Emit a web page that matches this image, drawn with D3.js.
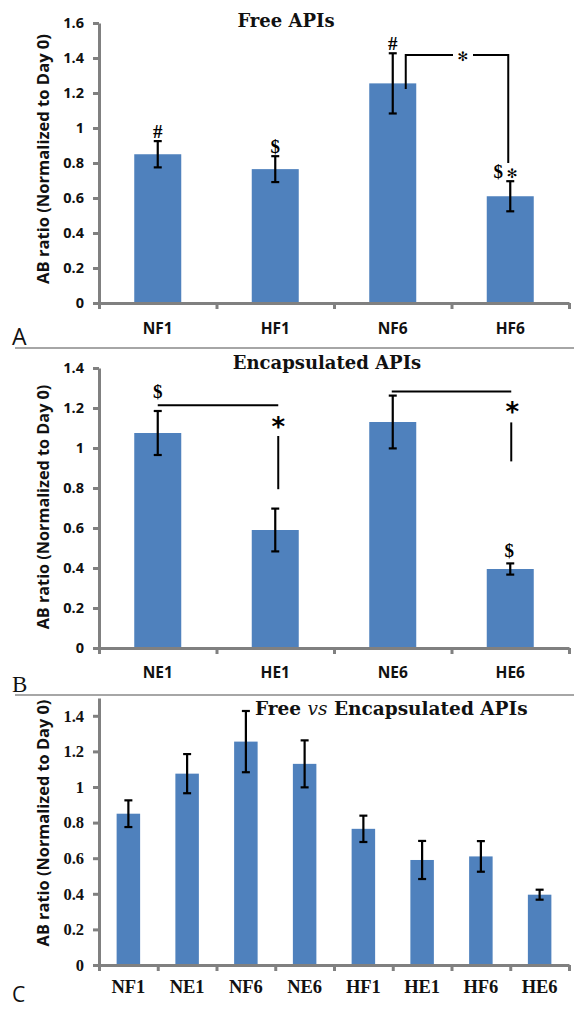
<!DOCTYPE html>
<html>
<head>
<meta charset="utf-8">
<script src="https://cdn.jsdelivr.net/npm/d3@7.9.0/dist/d3.min.js"></script>
<style>
  body { margin: 0; background: #fff; }
  svg { display: block; }
</style>
</head>
<body>
<svg id="chart" width="574" height="1009"></svg>
<script>
// panel A: free APIs
const freeGroups = ['NF1', 'HF1', 'NF6', 'HF6'];
const freeMeans = [0.85, 0.765, 1.255, 0.61];
const freeErrors = [0.075, 0.074, 0.172, 0.086];
const freeTicks = [0, 0.2, 0.4, 0.6, 0.8, 1, 1.2, 1.4, 1.6];
const freeMarks = [['NF1', '#'], ['HF1', '$'], ['NF6', '#'], ['HF6', '$']];

// panel B: encapsulated APIs
const encGroups = ['NE1', 'HE1', 'NE6', 'HE6'];
const encMeans = [1.075, 0.59, 1.13, 0.395];
const encErrors = [0.11, 0.107, 0.132, 0.028];
const encTicks = [0, 0.2, 0.4, 0.6, 0.8, 1, 1.2, 1.4];

// panel C: free vs encapsulated
const allGroups = ['NF1', 'NE1', 'NF6', 'NE6', 'HF1', 'HE1', 'HF6', 'HE6'];
const allMeans = [0.85, 1.075, 1.255, 1.13, 0.765, 0.59, 0.61, 0.395];
const allErrors = [0.075, 0.11, 0.172, 0.132, 0.074, 0.107, 0.086, 0.028];
const allTicks = [0, 0.2, 0.4, 0.6, 0.8, 1, 1.2, 1.4];

const yTitle = 'AB ratio (Normalized to Day 0)';

const svg = d3.select('#chart');
const left = 99, right = 569;
const barColor = '#4f81bd';
const axisColor = '#808080';
const sans = '"Open Sans", Lato, sans-serif';
const serif = '"Liberation Serif", "DejaVu Serif", serif';
const titleFont = '"DejaVu Serif", serif';

function drawPanel(p) {
  const n = p.groups.length;
  const x = d3.scaleBand().domain(p.groups).range([left, right]).paddingInner(0.6).paddingOuter(0.3);
  const xi = d3.scaleLinear().domain([0, n]).range([left, right]);
  const y = d3.scaleLinear().domain([0, p.yMax]).range([p.bottom, p.top]);
  const cx = k => x(k) + x.bandwidth() / 2;
  const g = svg.append('g');

  g.selectAll('rect.bar').data(p.groups).join('rect')
    .attr('class', 'bar')
    .attr('x', d => x(d))
    .attr('y', (d, i) => y(p.means[i]))
    .attr('width', x.bandwidth())
    .attr('height', (d, i) => p.bottom - y(p.means[i]))
    .attr('fill', barColor);

  const eb = g.selectAll('g.err').data(p.groups).join('g')
    .attr('class', 'err')
    .attr('stroke', '#000')
    .attr('stroke-width', 2.2);
  eb.append('line')
    .attr('x1', cx).attr('x2', cx)
    .attr('y1', (d, i) => y(p.means[i] - p.errors[i]))
    .attr('y2', (d, i) => y(p.means[i] + p.errors[i]));
  [-1, 1].forEach(s => {
    eb.append('line')
      .attr('x1', d => cx(d) - 4).attr('x2', d => cx(d) + 4)
      .attr('y1', (d, i) => y(p.means[i] + s * p.errors[i]))
      .attr('y2', (d, i) => y(p.means[i] + s * p.errors[i]));
  });

  const yAxis = g.append('g')
    .attr('transform', `translate(${left},0)`)
    .call(d3.axisLeft(y).tickValues(p.ticks).tickSize(6).tickSizeOuter(0)
      .tickPadding(9).tickFormat(d3.format('~g')));
  const xAxis = g.append('g')
    .attr('transform', `translate(0,${p.bottom})`)
    .call(d3.axisBottom(xi).tickValues(d3.range(n + 1)).tickSize(6).tickSizeOuter(0).tickFormat(''));
  [yAxis, xAxis].forEach(a => {
    a.select('.domain').attr('stroke', axisColor).attr('stroke-width', 3);
    a.selectAll('.tick line').attr('stroke', axisColor).attr('stroke-width', 3);
  });
  yAxis.selectAll('.tick text')
    .attr('font-family', p.tickFont)
    .attr('font-weight', 'bold')
    .attr('font-size', p.tickSize)
    .attr('fill', '#111');

  g.selectAll('text.cat').data(p.groups).join('text')
    .attr('class', 'cat')
    .attr('x', cx)
    .attr('y', p.labelY)
    .attr('text-anchor', 'middle')
    .attr('font-family', p.tickFont)
    .attr('font-weight', 'bold')
    .attr('font-size', p.labelSize)
    .attr('fill', '#111')
    .text(d => d);

  // rotated y title, sized to the length it has in the figure
  const yt = g.append('text')
    .attr('transform', `translate(49,${p.yTitleY}) rotate(-90)`)
    .attr('text-anchor', 'middle')
    .attr('font-family', sans)
    .attr('font-weight', 'bold')
    .attr('font-size', 15)
    .attr('fill', '#111')
    .text(yTitle);
  const len = yt.node().getComputedTextLength();
  if (len > 0) yt.attr('font-size', 15 * p.yTitleLen / len);

  g.append('text')
    .attr('x', 12)
    .attr('y', p.letterY)
    .attr('font-family', p.letterFont)
    .attr('font-size', p.letterSize)
    .attr('fill', '#111')
    .text(p.letter);

  return { x, y, cx, g };
}

function line(g, pts) {
  g.append('path')
    .attr('d', d3.line()(pts))
    .attr('fill', 'none')
    .attr('stroke', '#000')
    .attr('stroke-width', 2);
}

function star(g, xPos, yCenter, size, glyph) {
  g.append('text')
    .attr('x', xPos)
    .attr('y', yCenter + size * 0.45)
    .attr('text-anchor', 'middle')
    .attr('font-family', '"DejaVu Sans", sans-serif')
    .attr('font-weight', 'bold')
    .attr('font-size', size)
    .attr('fill', '#000')
    .text(glyph);
}

// ---------- panel A ----------
const A = drawPanel({
  groups: freeGroups, means: freeMeans, errors: freeErrors, ticks: freeTicks,
  yMax: 1.6, top: 23, bottom: 303, tickFont: sans, tickSize: 14.5,
  labelY: 334, labelSize: 15.5, yTitleY: 159, yTitleLen: 250,
  letter: 'A', letterY: 345, letterSize: 23, letterFont: '"Open Sans", sans-serif'
});
svg.append('text')
  .attr('x', 286).attr('y', 27)
  .attr('text-anchor', 'middle')
  .attr('font-family', titleFont).attr('font-weight', 'bold').attr('font-size', 18)
  .attr('fill', '#111')
  .text('Free APIs');

freeMarks.forEach(([k, t]) => {
  const i = freeGroups.indexOf(k);
  A.g.append('text')
    .attr('x', A.cx(k) - (k === 'HF6' ? 12 : 0))
    .attr('y', A.y(freeMeans[i] + freeErrors[i]) - 3)
    .attr('text-anchor', 'middle')
    .attr('font-family', serif).attr('font-weight', 'bold').attr('font-size', 19)
    .text(t);
});
star(A.g, A.cx('HF6') + 2, 172, 13, '✻');

// bracket NF6 - HF6
{
  const x0 = A.cx('NF6') + 13, x1 = A.cx('HF6') - 2;
  const yl = A.y(1.417);
  line(A.g, [[x0, A.y(1.223)], [x0, yl], [453, yl]]);
  line(A.g, [[473, yl], [x1, yl], [x1, A.y(0.80)]]);
  star(A.g, 463, yl, 13, '✻');
}

svg.append('line')
  .attr('x1', 15).attr('x2', 574).attr('y1', 348).attr('y2', 348)
  .attr('stroke', '#a6a6a6').attr('stroke-width', 2);

// ---------- panel B ----------
const B = drawPanel({
  groups: encGroups, means: encMeans, errors: encErrors, ticks: encTicks,
  yMax: 1.4, top: 368, bottom: 648, tickFont: sans, tickSize: 14.5,
  labelY: 678, labelSize: 15.5, yTitleY: 507, yTitleLen: 245,
  letter: 'B', letterY: 692, letterSize: 23, letterFont: serif
});
svg.append('text')
  .attr('x', 327).attr('y', 369)
  .attr('text-anchor', 'middle')
  .attr('font-family', titleFont).attr('font-weight', 'bold').attr('font-size', 18)
  .attr('fill', '#111')
  .text('Encapsulated APIs');

{
  // NE1 - HE1
  const yl1 = B.y(1.214);
  line(B.g, [[B.cx('NE1'), yl1], [B.cx('HE1') + 3, yl1]]);
  star(B.g, B.cx('HE1') + 3, B.y(1.121), 26, '*');
  line(B.g, [[B.cx('HE1') + 3, B.y(1.06)], [B.cx('HE1') + 3, B.y(0.794)]]);
  // NE6 - HE6
  const yl2 = B.y(1.283);
  line(B.g, [[B.cx('NE6') - 1, yl2], [B.cx('HE6') + 1, yl2]]);
  star(B.g, B.cx('HE6') + 2, B.y(1.193), 26, '*');
  line(B.g, [[B.cx('HE6') + 1, B.y(1.128)], [B.cx('HE6') + 1, B.y(0.933)]]);

  B.g.append('text')
    .attr('x', B.cx('NE1')).attr('y', yl1 - 7)
    .attr('text-anchor', 'middle')
    .attr('font-family', serif).attr('font-weight', 'bold').attr('font-size', 19)
    .text('$');
  const h = encGroups.indexOf('HE6');
  B.g.append('text')
    .attr('x', B.cx('HE6') - 1).attr('y', B.y(encMeans[h] + encErrors[h]) - 6)
    .attr('text-anchor', 'middle')
    .attr('font-family', serif).attr('font-weight', 'bold').attr('font-size', 19)
    .text('$');
}

svg.append('line')
  .attr('x1', 15).attr('x2', 574).attr('y1', 695).attr('y2', 695)
  .attr('stroke', '#a6a6a6').attr('stroke-width', 2);

// ---------- panel C ----------
const C = drawPanel({
  groups: allGroups, means: allMeans, errors: allErrors, ticks: allTicks,
  yMax: 1.5, top: 698, bottom: 965, tickFont: serif, tickSize: 16.5,
  labelY: 993, labelSize: 18.5, yTitleY: 823, yTitleLen: 247,
  letter: 'C', letterY: 1002, letterSize: 21, letterFont: '"Open Sans", sans-serif'
});
const ct = svg.append('text')
  .attr('x', 255).attr('y', 715)
  .attr('font-family', titleFont).attr('font-weight', 'bold').attr('font-size', 18.5)
  .attr('fill', '#111');
ct.append('tspan').text('Free ');
ct.append('tspan').attr('font-style', 'italic').attr('font-weight', 'normal').text('vs');
ct.append('tspan').text(' Encapsulated APIs');
</script>
</body>
</html>
